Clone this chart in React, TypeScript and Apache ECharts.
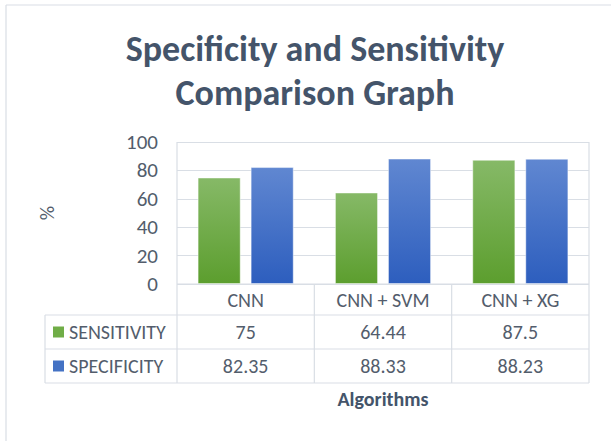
import React, { useEffect, useRef } from "react";
import * as echarts from "echarts";

const categories = ["CNN", "CNN + SVM", "CNN + XG"];
const seriesNames = ["SENSITIVITY", "SPECIFICITY"];
const sensitivity = [75, 64.44, 87.5];
const specificity = [82.35, 88.33, 88.23];
const yMin = 0;
const yMax = 100;
const yStep = 20;

const FONT = "Carlito, Calibri, Lato, sans-serif";
const TEXT = "#535D6C";
const DARK = "#44546A";
const LINE = "#D9DEE5";
const FS = 20;

export default function App() {
  const ref = useRef<HTMLDivElement>(null);
  useEffect(() => {
    if (!ref.current) return;
    const chart = echarts.init(ref.current, null, { renderer: "svg" });
    const green = new echarts.graphic.LinearGradient(0, 0, 0, 1, [
      { offset: 0, color: "#86B967" },
      { offset: 1, color: "#5C9E2E" },
    ]);
    const blue = new echarts.graphic.LinearGradient(0, 0, 0, 1, [
      { offset: 0, color: "#6087D1" },
      { offset: 1, color: "#2D5EBE" },
    ]);
    const gridLeft = 177, gridTop = 142, gridW = 412, gridH = 142;
    chart.setOption({
      animation: false,
      textStyle: { fontFamily: FONT },
      title: {
        text: "Specificity and Sensitivity\nComparison Graph",
        left: 310,
        textAlign: "center",
        top: 22,
        textStyle: {
          fontFamily: FONT,
          fontSize: 36,
          fontWeight: "bold",
          color: DARK,
          lineHeight: 44,
        },
      },
      grid: { left: gridLeft, top: gridTop, width: gridW, height: gridH, containLabel: false },
      xAxis: {
        type: "category",
        data: categories,
        axisLine: { show: false },
        axisTick: { show: false },
        axisLabel: {
          fontFamily: FONT,
          fontSize: FS,
          color: TEXT,
          margin: 16,
          verticalAlign: "middle",
        },
        name: "Algorithms",
        nameLocation: "middle",
        nameGap: 115,
        nameTextStyle: {
          fontFamily: FONT,
          fontSize: FS,
          fontWeight: "bold",
          color: DARK,
          verticalAlign: "middle",
        },
      },
      yAxis: {
        type: "value",
        min: yMin,
        max: yMax,
        interval: yStep,
        axisLine: { show: false },
        axisTick: { show: false },
        axisLabel: { fontFamily: FONT, fontSize: 21, color: TEXT, margin: 19 },
        splitLine: { lineStyle: { color: LINE, width: 1.2 } },
        name: "%",
        nameLocation: "middle",
        nameRotate: 90,
        nameGap: 120,
        nameTextStyle: { fontFamily: FONT, fontSize: 20, color: TEXT },
      },
      series: [
        {
          name: seriesNames[0],
          type: "bar",
          data: sensitivity,
          barCategoryGap: "30%",
          barGap: "23%",
          itemStyle: { color: green, borderColor: "rgba(255,255,255,0.45)", borderWidth: 1 },
        },
        {
          name: seriesNames[1],
          type: "bar",
          data: specificity,
          barCategoryGap: "30%",
          barGap: "23%",
          itemStyle: { color: blue, borderColor: "rgba(255,255,255,0.45)", borderWidth: 1 },
        },
      ],
    });

    const xs = categories.map((c) => chart.convertToPixel({ xAxisIndex: 0 }, c) as number);
    const yTop = chart.convertToPixel({ yAxisIndex: 0 }, yMax) as number;
    const yZero = chart.convertToPixel({ yAxisIndex: 0 }, yMin) as number;
    const right = gridLeft + gridW;
    const colW = gridW / categories.length;
    const tableLeft = 45;
    const rowH = 34;
    const headerBottom = yZero + 31;
    const rows = [sensitivity, specificity];
    const swatch = ["#70AD47", "#4472C4"];
    const lineStyle = { stroke: LINE, lineWidth: 1.2 };
    const g: any[] = [];
    g.push({ type: "line", shape: { x1: 6, y1: 5, x2: 700, y2: 5 }, style: lineStyle, silent: true });
    g.push({ type: "line", shape: { x1: 6, y1: 5, x2: 6, y2: 700 }, style: lineStyle, silent: true });
    g.push({ type: "line", shape: { x1: gridLeft, y1: yTop, x2: gridLeft, y2: headerBottom + rowH * 2 }, style: lineStyle, silent: true });
    g.push({ type: "line", shape: { x1: right, y1: yTop, x2: right, y2: headerBottom + rowH * 2 }, style: lineStyle, silent: true });
    g.push({ type: "line", shape: { x1: gridLeft, y1: yZero, x2: right, y2: yZero }, style: lineStyle, silent: true });
    for (let r = 0; r <= rows.length; r++) {
      const y = headerBottom + rowH * r;
      g.push({ type: "line", shape: { x1: tableLeft, y1: y, x2: right, y2: y }, style: lineStyle, silent: true });
    }
    g.push({ type: "line", shape: { x1: tableLeft, y1: headerBottom, x2: tableLeft, y2: headerBottom + rowH * 2 }, style: lineStyle, silent: true });
    for (let i = 1; i < categories.length; i++) {
      const x = gridLeft + colW * i;
      g.push({ type: "line", shape: { x1: x, y1: yZero, x2: x, y2: headerBottom + rowH * 2 }, style: lineStyle, silent: true });
    }
    rows.forEach((vals, r) => {
      const cy = headerBottom + rowH * r + rowH / 2;
      g.push({ type: "rect", shape: { x: 53, y: cy - 5.5, width: 11, height: 11 }, style: { fill: swatch[r] }, silent: true });
      g.push({
        type: "text",
        x: 69,
        y: cy,
        style: { text: seriesNames[r], fontFamily: FONT, fontSize: FS, fill: TEXT, textVerticalAlign: "middle", textAlign: "left" },
        silent: true,
      });
      vals.forEach((v, i) => {
        g.push({
          type: "text",
          x: xs[i],
          y: cy,
          style: { text: String(v), fontFamily: FONT, fontSize: FS, fill: TEXT, textVerticalAlign: "middle", textAlign: "center" },
          silent: true,
        });
      });
    });
    chart.setOption({ graphic: g });
    return () => chart.dispose();
  }, []);
  return (
    <div
      ref={ref}
      style={{ position: "fixed", left: 0, top: 0, width: 611, height: 441, background: "#fff" }}
    />
  );
}
